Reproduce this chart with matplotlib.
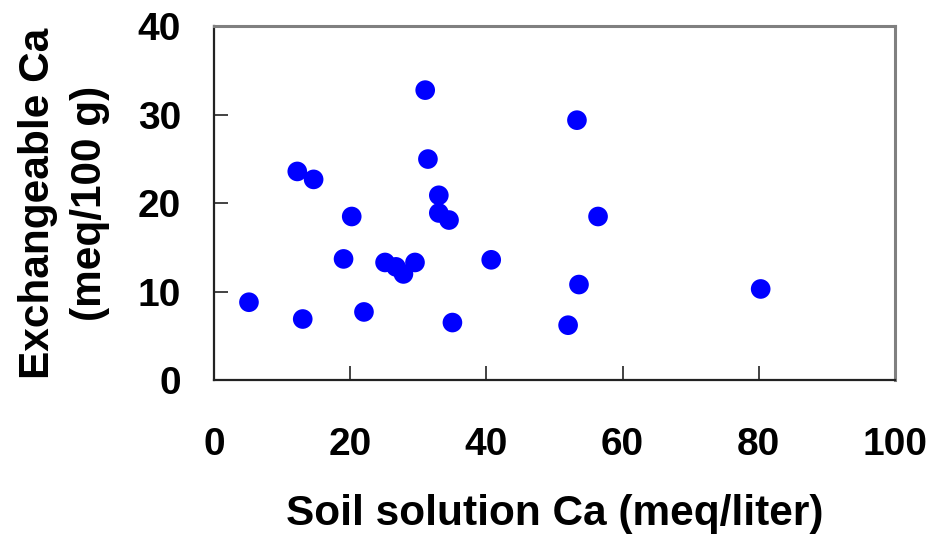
import matplotlib
matplotlib.use("Agg")
import matplotlib.pyplot as plt

# Data
soil_solution_ca = [5.1, 12.2, 13.0, 14.6, 19.0, 20.2, 22.0, 25.1, 26.7, 27.8, 29.5,
                    31.0, 31.4, 33.0, 33.0, 34.5, 35.0, 40.7, 52.0, 53.3, 53.6, 56.4, 80.3]
exchangeable_ca = [8.8, 23.6, 6.9, 22.7, 13.7, 18.5, 7.7, 13.3, 12.8, 12.0, 13.3,
                   32.8, 25.0, 20.9, 18.9, 18.1, 6.5, 13.6, 6.2, 29.4, 10.8, 18.5, 10.3]
x_ticks = [0, 20, 40, 60, 80, 100]
y_ticks = [0, 10, 20, 30, 40]

plt.rcParams['font.family'] = ['Liberation Sans', 'DejaVu Sans']
plt.rcParams['font.weight'] = 'bold'

fig = plt.figure(figsize=(9.32, 5.43), dpi=100)
ax = fig.add_axes([0.2299, 0.3002, 0.9600 - 0.2299, 0.9512 - 0.3002])

ax.scatter(soil_solution_ca, exchangeable_ca, s=200, color='#0000FF',
           edgecolors='none', zorder=3, clip_on=False)

ax.set_xlim(0, 100)
ax.set_ylim(0, 40)
ax.set_xticks(x_ticks)
ax.set_yticks(y_ticks)
ax.set_xticklabels([str(t) for t in x_ticks], fontsize=28, fontweight='bold')
ax.set_yticklabels([str(t) for t in y_ticks], fontsize=28, fontweight='bold')
ax.tick_params(axis='x', direction='in', length=10, width=1.2, pad=34, color='#222222')
ax.tick_params(axis='y', direction='in', length=10, width=1.2, pad=24, color='#222222')

for side in ['left', 'bottom']:
    ax.spines[side].set_color('#222222')
    ax.spines[side].set_linewidth(1.6)
for side in ['top', 'right']:
    ax.spines[side].set_color('#808080')
    ax.spines[side].set_linewidth(2.2)

ax.set_xlabel('Soil solution Ca (meq/liter)', fontsize=30.5, fontweight='bold')
ax.xaxis.set_label_coords(0.5, -0.38)
ax.xaxis.label.set_va('center')
ax.set_ylabel('Exchangeable Ca\n(meq/100 g)', fontsize=30.5, fontweight='bold',
              linespacing=1.4)
ax.yaxis.set_label_coords(-0.221, 0.5)
ax.yaxis.label.set_va('center')

fig.savefig('out.png', dpi=100)
